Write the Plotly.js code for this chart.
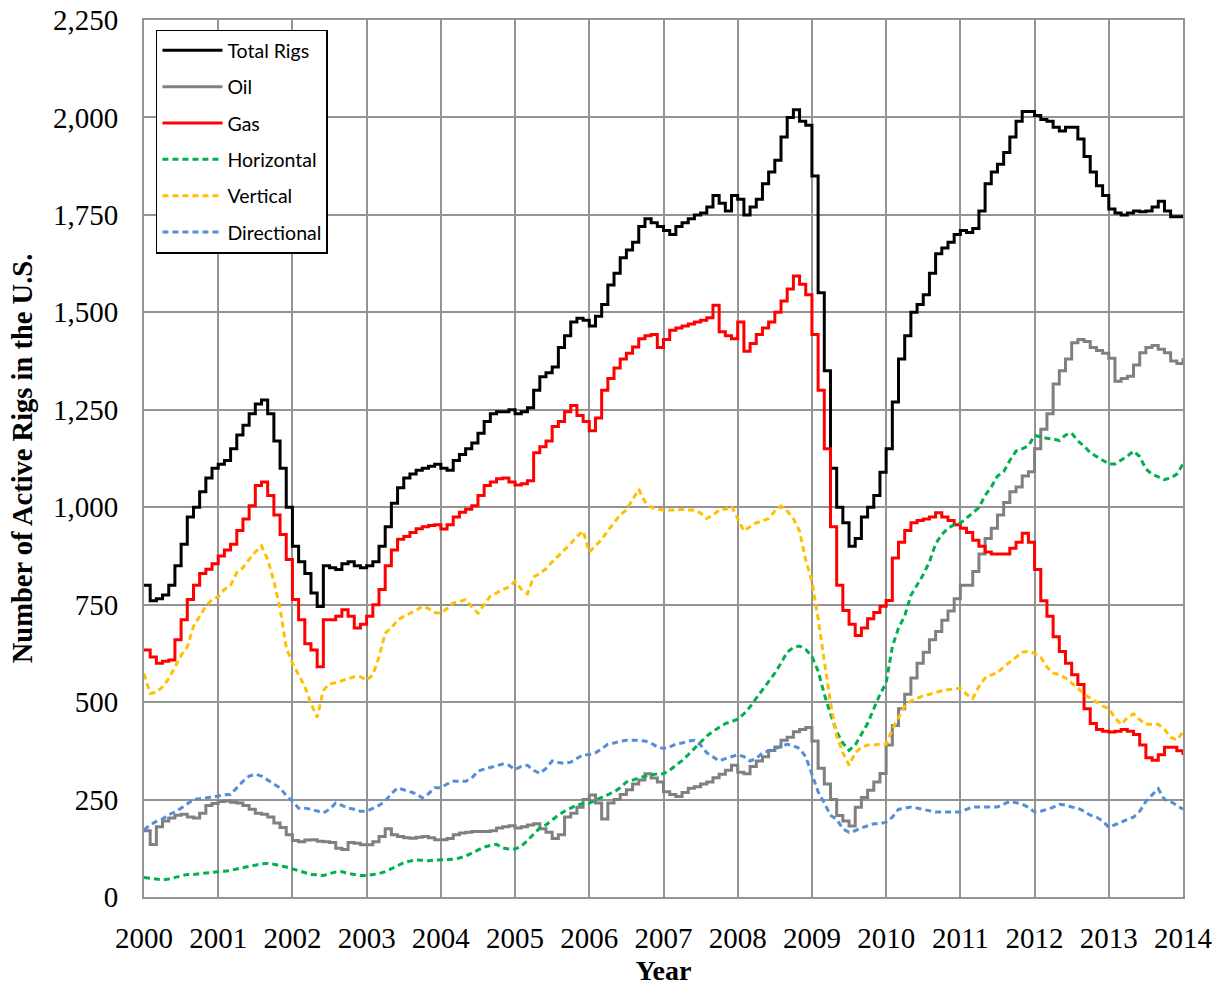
<!DOCTYPE html>
<html>
<head>
<meta charset="utf-8">
<script src="https://cdn.plot.ly/plotly-3.0.1.min.js"></script>
<style>html,body{margin:0;padding:0;background:#fff;}#chart{width:1225px;height:986px;}</style>
</head>
<body>
<div id="chart"></div>
<script>
// Monthly readings, Jan 2000 .. Jan 2014 (169 values each)
const startYear = 2000;
const seriesNames = ["Total Rigs", "Oil", "Gas", "Horizontal", "Vertical", "Directional"];

const totalRigs = [
  800,760,765,775,800,850,905,975,1000,1040,1075,1100,
  1110,1120,1150,1185,1210,1240,1265,1275,1240,1170,1100,1000,
  900,860,830,780,745,850,845,840,855,860,850,845,
  850,860,900,950,1010,1050,1075,1085,1095,1100,1105,1110,
  1100,1095,1120,1135,1150,1165,1190,1220,1240,1245,1245,1250,
  1240,1245,1255,1300,1335,1345,1360,1410,1440,1475,1485,1480,
  1465,1490,1520,1570,1600,1640,1660,1680,1720,1740,1730,1720,
  1710,1700,1720,1730,1740,1750,1755,1770,1800,1780,1760,1800,
  1790,1750,1770,1790,1830,1860,1890,1950,2000,2020,1990,1980,
  1850,1550,1350,1100,1000,960,900,920,975,1000,1030,1090,
  1150,1270,1380,1440,1500,1520,1545,1600,1650,1665,1680,1700,
  1710,1705,1715,1760,1830,1860,1880,1910,1950,1990,2015,2015,
  2005,1995,1990,1975,1965,1975,1975,1945,1900,1860,1825,1800,
  1765,1755,1750,1755,1760,1758,1760,1770,1785,1760,1745,1745,
  1750
];
const oil = [
  170,135,180,195,203,210,212,205,203,215,235,240,
  245,246,243,241,235,225,215,212,205,190,178,160,
  145,142,146,147,143,142,140,125,122,140,138,134,
  134,142,155,175,160,155,152,151,153,155,152,147,
  147,150,160,164,166,168,168,168,170,177,180,183,
  177,180,185,188,175,166,150,160,205,215,230,250,
  262,241,200,241,250,263,275,290,300,316,305,295,
  270,263,258,268,279,283,290,295,306,315,325,338,
  320,316,335,349,360,376,385,402,410,424,430,435,
  400,330,290,250,209,195,182,230,255,274,295,317,
  390,440,483,520,562,600,628,660,681,710,734,765,
  800,800,835,880,920,946,980,1012,1040,1052,1080,1091,
  1150,1200,1240,1316,1350,1380,1422,1430,1425,1410,1402,1395,
  1382,1323,1330,1336,1365,1396,1410,1415,1405,1396,1375,1369,
  1382
];
const gas = [
  634,616,600,605,608,660,711,763,800,830,841,855,
  875,890,905,940,970,1004,1056,1065,1030,980,930,866,
  763,711,650,634,591,711,711,720,737,720,690,700,
  720,750,789,850,890,918,925,935,945,950,953,955,
  944,955,975,987,995,1004,1030,1056,1065,1073,1075,1065,
  1057,1060,1068,1140,1155,1170,1207,1220,1245,1261,1235,1220,
  1196,1229,1300,1330,1357,1380,1395,1411,1432,1440,1443,1410,
  1430,1454,1460,1465,1470,1475,1480,1486,1518,1450,1440,1432,
  1475,1400,1420,1443,1460,1475,1500,1529,1560,1593,1572,1545,
  1443,1300,1150,950,800,735,700,671,690,714,730,746,
  761,870,910,940,960,966,970,975,986,975,966,955,
  946,935,915,900,885,880,880,880,895,910,933,910,
  840,760,720,668,630,600,570,545,483,445,430,425,
  423,425,430,425,417,390,357,351,365,384,384,375,
  364
];
const horizontal = [
  50,48,45,44,46,50,55,58,58,60,62,64,
  65,66,68,72,75,78,82,85,86,84,80,77,
  72,68,62,58,57,55,60,64,65,60,58,55,
  55,57,60,65,72,80,88,92,95,94,93,95,
  95,96,97,100,105,112,120,128,132,135,126,123,
  123,130,145,160,177,185,198,210,220,228,236,240,
  241,248,255,263,270,280,295,300,306,310,313,316,
  316,325,338,350,365,381,395,413,425,435,445,450,
  456,470,488,510,531,550,574,600,628,640,644,635,
  617,580,520,470,424,395,376,390,417,445,483,520,
  549,642,690,721,774,800,827,860,906,930,946,955,
  959,972,985,999,1030,1052,1080,1091,1120,1144,1150,1157,
  1184,1180,1177,1175,1171,1185,1190,1170,1157,1140,1131,1120,
  1111,1111,1120,1131,1144,1130,1098,1085,1078,1071,1075,1085,
  1111
];
const vertical = [
  573,522,525,539,560,591,620,642,694,720,746,763,
  770,789,800,832,845,866,885,901,866,810,740,640,
  600,570,540,496,461,530,547,550,556,560,565,565,
  556,570,616,677,690,711,720,728,735,746,740,730,
  728,740,754,758,763,745,728,750,772,780,789,795,
  810,790,778,821,830,842,860,875,890,907,925,939,
  885,900,917,940,960,980,993,1020,1046,1014,1000,995,
  993,993,993,995,993,993,985,971,980,993,995,1003,
  971,939,950,960,965,971,990,1003,990,971,939,864,
  810,714,606,499,413,370,338,370,384,390,390,392,
  392,430,460,490,503,510,516,520,525,529,532,534,
  536,520,509,540,562,570,575,590,602,615,628,630,
  625,615,590,575,570,562,550,536,520,509,500,490,
  483,460,443,460,470,455,443,443,443,430,410,403,
  423
];
const directional = [
  172,185,194,200,211,218,228,240,250,252,254,257,
  259,262,263,280,297,310,315,310,300,290,280,260,
  246,228,228,225,220,216,225,241,235,228,225,220,
  220,228,235,246,265,280,275,272,265,254,265,280,
  280,290,297,297,297,305,323,328,332,336,341,338,
  327,335,338,325,317,330,349,345,343,346,355,365,
  365,370,380,392,395,400,402,402,402,400,395,385,
  381,385,392,395,400,402,390,370,360,349,355,360,
  365,360,349,355,370,375,381,385,392,388,381,360,
  317,270,241,210,199,175,166,170,177,183,188,188,
  192,205,225,228,231,228,225,222,218,218,218,218,
  218,225,231,231,231,231,231,238,245,242,238,230,
  218,220,225,230,238,236,231,228,220,210,205,195,
  179,185,192,198,205,220,245,262,278,250,245,235,
  225
];
const yTickVals = [0,250,500,750,1000,1250,1500,1750,2000,2250];
const xTickVals = [2000,2001,2002,2003,2004,2005,2006,2007,2008,2009,2010,2011,2012,2013,2014];

// time axis: one point per month
const months = [];
for (let i = 0; i < totalRigs.length; i++) months.push(startYear + i / 12);

const seriesValues = [totalRigs, oil, gas, horizontal, vertical, directional];
const colors = ["#000000", "#808080", "#ff0000", "#00b050", "#ffc000", "#558ed5"];
const dashes = ["solid", "solid", "solid", "6px,4px", "6px,4px", "6px,4px"];
const shapes = ["hv", "hv", "hv", "linear", "linear", "linear"];

const traces = seriesNames.map((name, k) => ({
  x: months,
  y: seriesValues[k],
  name: name,
  type: "scatter",
  mode: "lines",
  legendgroup: "g" + k,
  line: {color: colors[k], width: 3, dash: dashes[k], shape: shapes[k]}
}));

const gridColor = "#939393";
const layout = {
  width: 1225,
  height: 986,
  margin: {l: 144, r: 42, t: 20, b: 89},
  paper_bgcolor: "#ffffff",
  plot_bgcolor: "#ffffff",
  showlegend: true,
  legend: {
    x: 0.0115, y: 0.989, xanchor: "left", yanchor: "top",
    bgcolor: "#ffffff", bordercolor: "#000000", borderwidth: 1.5,
    font: {family: "Lato, 'Liberation Sans', sans-serif", size: 19.5, color: "#000000"},
    tracegroupgap: 8,
    itemwidth: 60
  },
  xaxis: {
    range: [2000, 2014],
    tickvals: xTickVals,
    ticktext: xTickVals.map(String),
    showgrid: true, gridcolor: gridColor, gridwidth: 2,
    showline: true, linecolor: gridColor, linewidth: 2, mirror: true,
    ticks: "", zeroline: false,
    ticklabelstandoff: 14,
    tickfont: {family: "'Liberation Serif', 'Times New Roman', serif", size: 29, color: "#000000"},
    title: {text: "<b>Year</b>", standoff: 8,
      font: {family: "'Liberation Serif', 'Times New Roman', serif", size: 28, color: "#000000"}},
    automargin: false
  },
  yaxis: {
    range: [0, 2250],
    tickvals: yTickVals,
    tickformat: ",",
    showgrid: true, gridcolor: gridColor, gridwidth: 2,
    showline: true, linecolor: gridColor, linewidth: 2, mirror: true,
    ticks: "", zeroline: false,
    ticklabelstandoff: 18,
    tickfont: {family: "'Liberation Serif', 'Times New Roman', serif", size: 29, color: "#000000"},
    title: {text: "<b>Number of Active Rigs in the U.S.</b>", standoff: 12,
      font: {family: "'Liberation Serif', 'Times New Roman', serif", size: 28.5, color: "#000000"}},
    automargin: false
  }
};

Plotly.newPlot("chart", traces, layout, {displayModeBar: false, staticPlot: true});
</script>
</body>
</html>
